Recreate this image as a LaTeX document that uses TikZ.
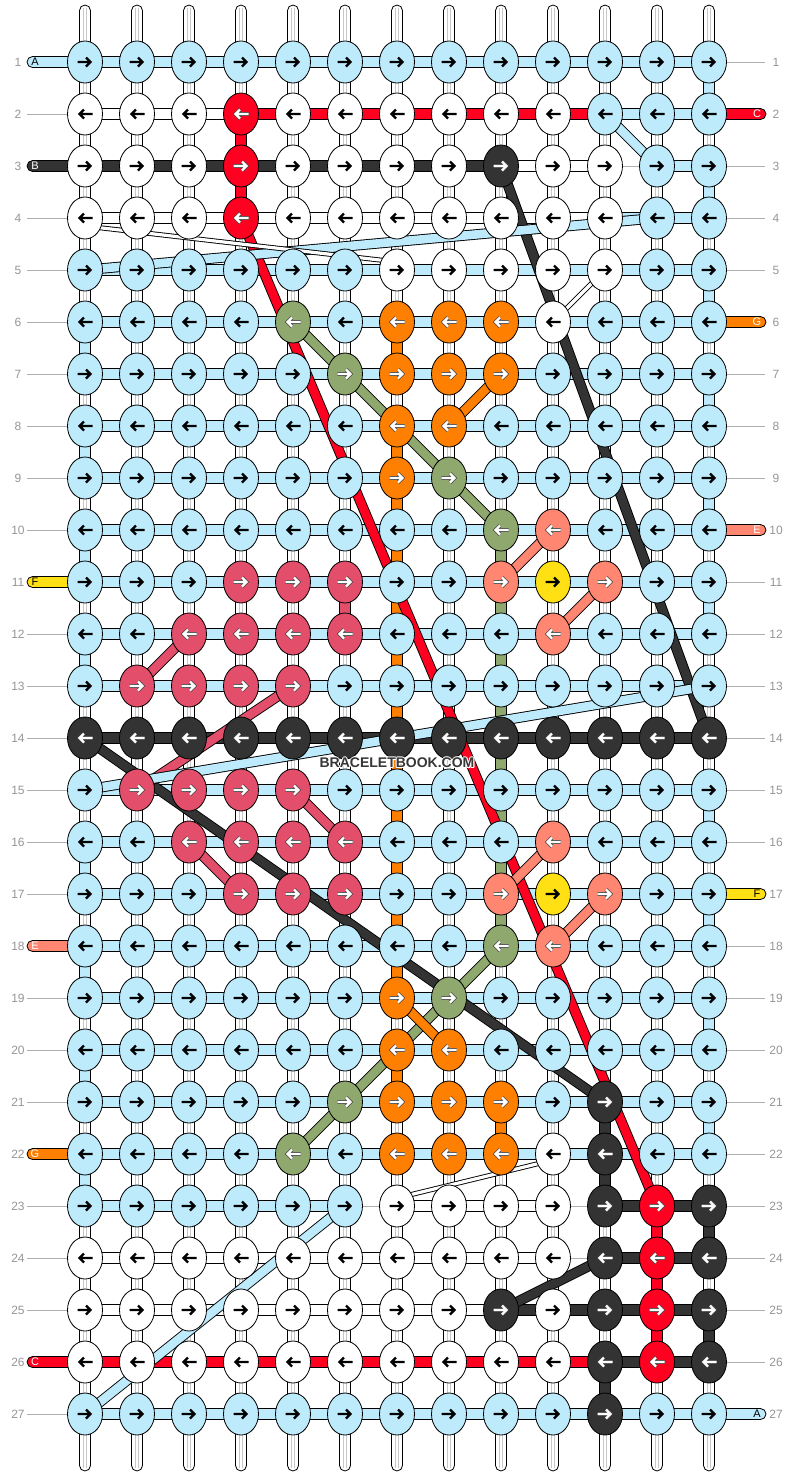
\documentclass[tikz,border=0pt]{standalone}
\usepackage{fontspec}
\setmainfont{Liberation Sans}
\usetikzlibrary{shapes.geometric}
\definecolor{kB}{RGB}{190,235,252}
\definecolor{kW}{RGB}{255,255,255}
\definecolor{kR}{RGB}{255,0,32}
\definecolor{kD}{RGB}{51,51,51}
\definecolor{kO}{RGB}{255,127,0}
\definecolor{kL}{RGB}{143,168,110}
\definecolor{kS}{RGB}{255,134,112}
\definecolor{kY}{RGB}{255,224,20}
\definecolor{kP}{RGB}{227,79,107}
\colorlet{iB}{black}\colorlet{iW}{black}\colorlet{iY}{black}
\colorlet{iR}{white}\colorlet{iD}{white}\colorlet{iO}{white}
\colorlet{iL}{white}\colorlet{iS}{white}\colorlet{iP}{white}
\colorlet{oB}{kB}\colorlet{oW}{kW}\colorlet{oY}{kY}
\definecolor{outl}{RGB}{70,70,70}
\colorlet{oR}{outl}\colorlet{oD}{outl}\colorlet{oO}{outl}
\colorlet{oL}{outl}\colorlet{oS}{outl}\colorlet{oP}{outl}
\definecolor{guidegray}{RGB}{175,175,175}
\definecolor{numgray}{RGB}{150,150,150}
\definecolor{tubegray}{RGB}{200,200,200}
\definecolor{wmgray}{RGB}{55,55,55}
\begin{document}
\begin{tikzpicture}[x=1pt,y=-1pt,
  guide/.style={draw=guidegray, line width=0.8},
  num/.style={text=numgray, font=\fontsize{12}{12}\selectfont, inner sep=0},
  knot/.style={ellipse, draw=black, line width=0.8, minimum width=35, minimum height=42, inner sep=0},
  seg/.style={draw=black, line width=0.8},
  tubeline/.style={draw=tubegray, line width=0.7},
  band/.style={draw=#1, line width=8.6, preaction={draw=black, line width=10.4}},
  thinband/.style={draw=white, line width=3.2, preaction={draw=black, line width=5}},
  stublabel/.style={font=\fontsize{11}{11}\selectfont, inner sep=0},
  wm/.style={font=\bfseries\fontsize{14}{14}\selectfont, inner sep=0},
  pics/knotarrow/.style={code={\draw[line cap=butt, line join=miter, #1] (-7.5,0) -- (5,0) (1,-4.5) -- (5.5,0) -- (1,4.5);}}
]
\useasboundingbox (0,0) rectangle (792,1476);
\fill[white] (0,0) rectangle (792,1476);
% knot centre coordinates
\foreach \r in {1,...,27}{\foreach \c in {1,...,13}{
  \coordinate (p\r-\c) at ({85+52*(\c-1)},{62+52*(\r-1)});}}
% guide lines and row numbers
\foreach \r in {1,...,27}{
  \pgfmathsetmacro\y{62+52*(\r-1)}
  \draw[guide] (27,\y) -- (765,\y);
  \node[num] (nl\r) at (18,\y) {\r};
  \node[num] (nr\r) at (776,\y) {\r};
}
% vertical base strands
\foreach \c in {1,...,13}{
  \pgfmathsetmacro\x{85+52*(\c-1)}
  \draw[seg, fill=white, rounded corners=5.5] ({\x-5.5},5) rectangle ({\x+5.5},1471);
  \draw[tubeline] ({\x-1.8},8) -- ({\x-1.8},1468) ({\x+1.8},8) -- ({\x+1.8},1468);
}
% horizontal segments
\foreach \row [count=\r] in {
 {B,B,B,B,B,B,B,B,B,B,B,B},
 {W,W,W,R,R,R,R,R,R,R,B,B},
 {D,D,D,D,D,D,D,D,W,W,N,B},
 {W,W,W,W,W,W,W,W,W,W,B,B},
 {B,B,B,B,B,B,B,B,B,B,B,B},
 {B,B,B,B,B,B,B,B,B,B,B,B},
 {B,B,B,B,B,B,B,B,B,B,B,B},
 {B,B,B,B,B,B,B,B,B,B,B,B},
 {B,B,B,B,B,B,B,B,B,B,B,B},
 {B,B,B,B,B,B,B,B,B,B,B,B},
 {B,B,B,B,B,B,B,B,B,B,B,B},
 {B,B,B,B,B,B,B,B,B,B,B,B},
 {B,B,B,B,B,B,B,B,B,B,B,B},
 {D,D,D,D,D,D,D,D,D,D,D,D},
 {B,B,B,B,B,B,B,B,B,B,B,B},
 {B,B,B,B,B,B,B,B,B,B,B,B},
 {B,B,B,B,B,B,B,B,B,B,B,B},
 {B,B,B,B,B,B,B,B,B,B,B,B},
 {B,B,B,B,B,B,B,B,B,B,B,B},
 {B,B,B,B,B,B,B,B,B,B,B,B},
 {B,B,B,B,B,B,B,B,B,B,B,B},
 {B,B,B,B,B,B,B,B,B,B,B,B},
 {B,B,B,B,B,N,W,W,W,N,D,D},
 {W,W,W,W,W,W,W,W,W,N,D,D},
 {W,W,W,W,W,W,W,W,D,D,D,D},
 {R,R,R,R,R,R,R,R,R,R,D,D},
 {B,B,B,B,B,B,B,B,B,B,B,B}}{
  \foreach \s [count=\c] in \row {
    \if\s N\else
      \pgfmathtruncatemacro\cn{\c+1}
      \draw[seg, fill=k\s] ([yshift=-5.5]p\r-\c) rectangle ([yshift=5.5]p\r-\cn);
    \fi
  }
}
% thread ends with letters
\foreach \r/\col/\lab/\tc in {1/kB/A/black,3/kD/B/white,11/kY/F/black,18/kS/E/white,22/kO/G/white,26/kR/C/white}{
  \pgfmathsetmacro\y{62+52*(\r-1)}
  \draw[seg, fill=\col, rounded corners=5.5] (27,{\y-5.5}) rectangle (92,{\y+5.5});
  \node[stublabel, text=\tc] (sl\r) at (35,\y) {\lab};
}
\foreach \r/\col/\lab/\tc in {2/kR/C/white,6/kO/G/white,10/kS/E/white,17/kY/F/black,27/kB/A/black}{
  \pgfmathsetmacro\y{62+52*(\r-1)}
  \draw[seg, fill=\col, rounded corners=5.5] (702,{\y-5.5}) rectangle (766,{\y+5.5});
  \node[stublabel, text=\tc] (sr\r) at (757,\y) {\lab};
}
% vertical coloured segments
\foreach \c/\r/\col in {1/6/kB,1/8/kB,1/10/kB,1/12/kB,1/16/kB,1/18/kB,1/20/kB,1/22/kB,
  13/1/kB,13/3/kB,13/5/kB,13/7/kB,13/9/kB,13/11/kB,13/15/kB,13/17/kB,13/19/kB,13/21/kB,
  13/23/kD,13/25/kD,4/2/kR,4/3/kR,6/11/kP,
  7/6/kO,7/8/kO,7/9/kO,7/10/kO,7/11/kO,7/12/kO,7/13/kO,7/14/kO,7/15/kO,7/16/kO,7/17/kO,7/18/kO,7/20/kO,
  9/10/kL,9/11/kL,9/12/kL,9/13/kL,9/14/kL,9/15/kL,9/16/kL,9/17/kL,9/21/kO,
  11/21/kD,11/22/kD,11/26/kD,12/23/kR,12/24/kR,12/25/kR}{
  \pgfmathtruncatemacro\rn{\r+1}
  \draw[seg, fill=\col] ([xshift=-5.5]p\r-\c) rectangle ([xshift=5.5]p\rn-\c);
}
% diagonal threads
\coordinate (w1a) at (85,226); \coordinate (w1b) at (397,262);
\coordinate (w2a) at (553,1160); \coordinate (w2b) at (397,1198);
\draw[band=kD] (p3-9) -- (p14-13);
\draw[band=kD] (p14-1) -- (p21-11);
\draw[band=kD] (p24-11) -- (p25-9);
\draw[band=kR] (p4-4) -- (p23-12);
\draw[band=kL] (p6-5) -- (p10-9);
\draw[band=kL] (p18-9) -- (p22-5);
\draw[band=kO] (p7-9) -- (p8-8);
\draw[band=kO] (p19-7) -- (p20-8);
\draw[band=kP] (p12-3) -- (p13-2);
\draw[band=kP] (p13-5) -- (p15-2);
\draw[band=kP] (p15-5) -- (p16-6);
\draw[band=kP] (p16-3) -- (p17-4);
\draw[band=kS] (p10-10) -- (p11-9);
\draw[band=kS] (p11-11) -- (p12-10);
\draw[band=kS] (p16-10) -- (p17-9);
\draw[band=kS] (p17-11) -- (p18-10);
\draw[band=kB] (p2-11) -- (p3-12);
\draw[band=kB] (p4-12) -- (p5-1);
\draw[band=kB] (p13-13) -- (p15-1);
\draw[band=kB] (p23-6) -- (p27-1);
\draw[thinband] (w1a) -- (w1b);
\draw[thinband] (p5-11) -- (p6-10);
\draw[thinband] (w2a) -- (w2b);
% knots
\foreach \row [count=\r] in {
 {B,B,B,B,B,B,B,B,B,B,B,B,B},
 {W,W,W,R,W,W,W,W,W,W,B,B,B},
 {W,W,W,R,W,W,W,W,D,W,W,B,B},
 {W,W,W,R,W,W,W,W,W,W,W,B,B},
 {B,B,B,B,B,B,W,W,W,W,W,B,B},
 {B,B,B,B,L,B,O,O,O,W,B,B,B},
 {B,B,B,B,B,L,O,O,O,B,B,B,B},
 {B,B,B,B,B,B,O,O,B,B,B,B,B},
 {B,B,B,B,B,B,O,L,B,B,B,B,B},
 {B,B,B,B,B,B,B,B,L,S,B,B,B},
 {B,B,B,P,P,P,B,B,S,Y,S,B,B},
 {B,B,P,P,P,P,B,B,B,S,B,B,B},
 {B,P,P,P,P,B,B,B,B,B,B,B,B},
 {D,D,D,D,D,D,D,D,D,D,D,D,D},
 {B,P,P,P,P,B,B,B,B,B,B,B,B},
 {B,B,P,P,P,P,B,B,B,S,B,B,B},
 {B,B,B,P,P,P,B,B,S,Y,S,B,B},
 {B,B,B,B,B,B,B,B,L,S,B,B,B},
 {B,B,B,B,B,B,O,L,B,B,B,B,B},
 {B,B,B,B,B,B,O,O,B,B,B,B,B},
 {B,B,B,B,B,L,O,O,O,B,D,B,B},
 {B,B,B,B,L,B,O,O,O,W,D,B,B},
 {B,B,B,B,B,B,W,W,W,W,D,R,D},
 {W,W,W,W,W,W,W,W,W,W,D,R,D},
 {W,W,W,W,W,W,W,W,D,W,D,R,D},
 {W,W,W,W,W,W,W,W,W,W,D,R,D},
 {B,B,B,B,B,B,B,B,B,B,D,B,B}}{
  \pgfmathtruncatemacro\d{1-2*mod(\r+1,2)}
  \foreach \k [count=\c] in \row {
    \node[knot, fill=k\k] (k\r-\c) at (p\r-\c) {};
    \pic[xscale=\d] at (p\r-\c) {knotarrow={draw=o\k, line width=3.8}};
    \pic[xscale=\d] at (p\r-\c) {knotarrow={draw=i\k, line width=2.2}};
  }
}
% watermark
\foreach \dx/\dy [count=\i] in {-1/0,1/0,0/-1,0/1,-0.8/-0.8,0.8/0.8,-0.8/0.8,0.8/-0.8}{
  \node[wm, text=white] (wmh\i) at ({397+\dx},{763+\dy}) {BRACELETBOOK.COM};
}
\node[wm, text=wmgray] (wm) at (397,763) {BRACELETBOOK.COM};
\end{tikzpicture}
\end{document}
